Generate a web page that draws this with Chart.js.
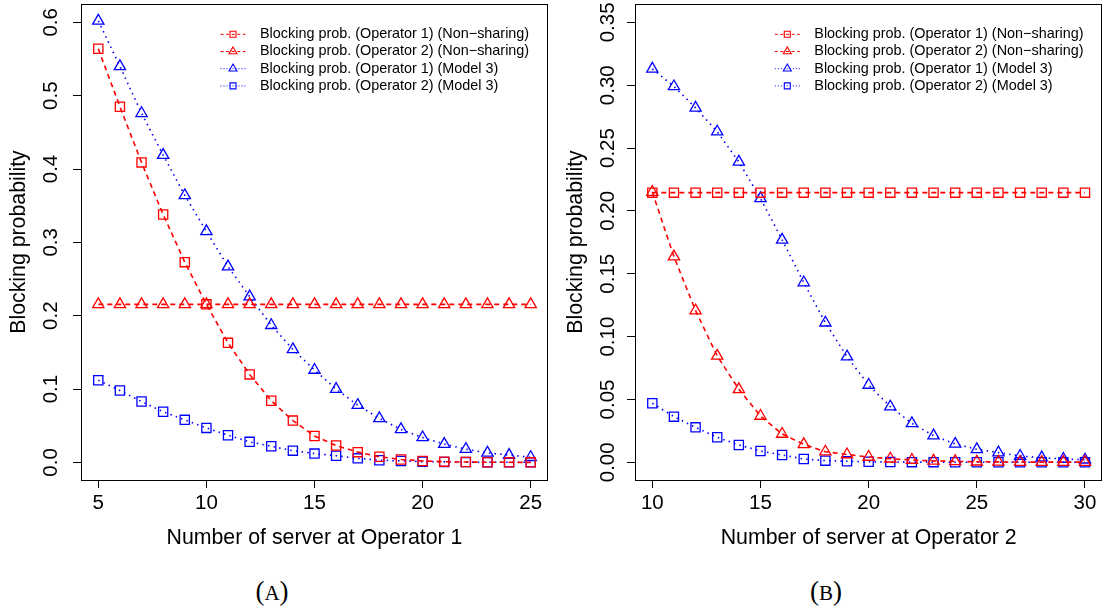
<!DOCTYPE html>
<html>
<head>
<meta charset="utf-8">
<script src="https://cdn.jsdelivr.net/npm/chart.js@4/dist/chart.umd.min.js"></script>
<style>
  body { margin: 0; background: #fff; width: 1104px; height: 612px; position: relative; overflow: hidden; }
  .panel { position: absolute; top: 0; width: 552px; height: 560px; }
  .cap { position: absolute; top: 575px; width: 100px; text-align: center; line-height: 32px;
         font-family: "Liberation Serif", "DejaVu Serif", serif; font-size: 27px; color: #000; }
  .cap span { font-size: 0.78em; }
</style>
</head>
<body>
<div class="panel" style="left:0"><canvas id="chartA" width="552" height="560"></canvas></div>
<div class="panel" style="left:552px"><canvas id="chartB" width="552" height="560"></canvas></div>
<div class="cap" style="left:222px">(<span>A</span>)</div>
<div class="cap" style="left:776px">(<span>B</span>)</div>
<script>
// series order matches the legend
const seriesLabels = [
  "Blocking prob. (Operator 1) (Non\u2212sharing)",
  "Blocking prob. (Operator 2) (Non\u2212sharing)",
  "Blocking prob. (Operator 1) (Model 3)",
  "Blocking prob. (Operator 2) (Model 3)",
];

// panel A: servers at operator 1
const serversA = [5, 6, 7, 8, 9, 10, 11, 12, 13, 14, 15, 16, 17, 18, 19, 20, 21, 22, 23, 24, 25];
const op1NonSharingA = [0.564, 0.485, 0.409, 0.338, 0.273, 0.2155, 0.163, 0.120, 0.084, 0.057, 0.036, 0.023, 0.014, 0.0077, 0.004, 0.002, 0.001, 0.0005, 0.0002, 0.0001, 0.00005];
const op2NonSharingA = [0.2155, 0.2155, 0.2155, 0.2155, 0.2155, 0.2155, 0.2155, 0.2155, 0.2155, 0.2155, 0.2155, 0.2155, 0.2155, 0.2155, 0.2155, 0.2155, 0.2155, 0.2155, 0.2155, 0.2155, 0.2155];
const op1Model3A = [0.602, 0.540, 0.476, 0.419, 0.364, 0.315, 0.267, 0.226, 0.187, 0.154, 0.126, 0.100, 0.078, 0.060, 0.045, 0.034, 0.025, 0.018, 0.013, 0.010, 0.007];
const op2Model3A = [0.112, 0.098, 0.083, 0.069, 0.058, 0.047, 0.037, 0.028, 0.022, 0.016, 0.012, 0.009, 0.0055, 0.003, 0.002, 0.001, 0.0007, 0.0004, 0.0002, 0.0001, 0.0001];
const xTicksA = [5, 10, 15, 20, 25];
const xTickLabelsA = ["5", "10", "15", "20", "25"];
const yTicksA = [0, 0.1, 0.2, 0.3, 0.4, 0.5, 0.6];
const yTickLabelsA = ["0.0", "0.1", "0.2", "0.3", "0.4", "0.5", "0.6"];

// panel B: servers at operator 2
const serversB = [10, 11, 12, 13, 14, 15, 16, 17, 18, 19, 20, 21, 22, 23, 24, 25, 26, 27, 28, 29, 30];
const op1NonSharingB = [0.2145, 0.2145, 0.2145, 0.2145, 0.2145, 0.2145, 0.2145, 0.2145, 0.2145, 0.2145, 0.2145, 0.2145, 0.2145, 0.2145, 0.2145, 0.2145, 0.2145, 0.2145, 0.2145, 0.2145, 0.2145];
const op2NonSharingB = [0.215, 0.1636, 0.1206, 0.0846, 0.058, 0.0368, 0.0225, 0.0143, 0.0084, 0.0062, 0.0042, 0.0028, 0.0018, 0.0011, 0.0007, 0.0004, 0.0003, 0.0002, 0.0001, 0.0001, 0.0001];
const op1Model3B = [0.313, 0.299, 0.282, 0.263, 0.239, 0.210, 0.177, 0.143, 0.111, 0.084, 0.0615, 0.0442, 0.031, 0.0212, 0.0146, 0.0103, 0.0077, 0.005, 0.0037, 0.0026, 0.002];
const op2Model3B = [0.047, 0.0363, 0.0278, 0.0199, 0.0138, 0.009, 0.0058, 0.0026, 0.0013, 0.0008, 0.0004, 0.0002, 0.0001, 0.0001, 0.00005, 0.00005, 0.00005, 0.00005, 0.00005, 0.00005, 0.00005];
const xTicksB = [10, 15, 20, 25, 30];
const xTickLabelsB = ["10", "15", "20", "25", "30"];
const yTicksB = [0, 0.05, 0.1, 0.15, 0.2, 0.25, 0.3, 0.35];
const yTickLabelsB = ["0.00", "0.05", "0.10", "0.15", "0.20", "0.25", "0.30", "0.35"];

const RED = "#ff0000";
const BLUE = "#0000ff";
const seriesColors = [RED, RED, BLUE, BLUE];
const seriesMarkers = ["rect", "triangle", "triangle", "rect"];
const plotDash = [[5, 4], [5, 4], [1.5, 4.2], [1.5, 4.2]];
const legendDash = [[3, 2.6], [3, 2.6], [1, 2], [1, 2]];

Chart.defaults.font.family = '"Liberation Sans", Arial, sans-serif';
Chart.defaults.color = "#000";

// R-style box around the plot region
const plotBox = {
  id: "plotBox",
  afterDraw(chart) {
    const { ctx, chartArea: a } = chart;
    ctx.save();
    ctx.strokeStyle = "#000";
    ctx.lineWidth = 1;
    ctx.strokeRect(Math.round(a.left) + 0.5, Math.round(a.top) + 0.5,
      Math.round(a.right - a.left) - 1, Math.round(a.bottom - a.top));
    ctx.restore();
  },
};

// legend drawn like R's legend(): short line with the marker in the middle
const rLegend = {
  id: "rLegend",
  afterDraw(chart) {
    const { ctx, chartArea: a } = chart;
    ctx.save();
    chart.data.datasets.forEach((ds, i) => {
      const y = a.top + 30.3 + i * 17.2;
      const xm = a.right - 315;
      ctx.strokeStyle = ds.borderColor;
      ctx.lineWidth = 1;
      ctx.setLineDash(legendDash[i]);
      ctx.beginPath();
      ctx.moveTo(a.right - 327.5, y);
      ctx.lineTo(a.right - 302.5, y);
      ctx.stroke();
      ctx.setLineDash([]);
      ctx.lineWidth = 1.1;
      ctx.beginPath();
      if (ds.pointStyle === "rect") {
        ctx.rect(xm - 3, y - 3, 6, 6);
      } else {
        const r = 4.6;
        ctx.moveTo(xm, y - r);
        ctx.lineTo(xm + r * 0.866, y + r / 2);
        ctx.lineTo(xm - r * 0.866, y + r / 2);
        ctx.closePath();
      }
      ctx.stroke();
      ctx.fillStyle = "#000";
      ctx.font = '14.4px "Liberation Sans", Arial, sans-serif';
      ctx.textBaseline = "middle";
      ctx.fillText(ds.label, a.right - 288, y);
    });
    ctx.restore();
  },
};

function makePanel(canvasId, p) {
  const datasets = p.series.map((vals, i) => ({
    label: seriesLabels[i],
    data: p.x.map((x, j) => ({ x: x, y: vals[j] })),
    borderColor: seriesColors[i],
    borderWidth: 1.6,
    borderDash: plotDash[i],
    pointStyle: seriesMarkers[i],
    pointRadius: 6.5,
    pointBorderWidth: 1.3,
    pointBorderColor: seriesColors[i],
    pointBackgroundColor: "rgba(0,0,0,0)",
    fill: false,
    tension: 0,
  }));

  const tickGrid = { drawOnChartArea: false, drawTicks: true, tickLength: 8, color: "#000", lineWidth: 1 };

  const config = {
    type: "line",
    data: { datasets: datasets },
    options: {
      responsive: false,
      animation: false,
      layout: { padding: { top: 4, right: p.rightPad, left: 0, bottom: 0 }, autoPadding: false },
      plugins: { legend: { display: false }, tooltip: { enabled: false } },
      scales: {
        x: {
          type: "linear",
          min: p.xMin,
          max: p.xMax,
          afterBuildTicks: (s) => { s.ticks = p.xTicks.map((v) => ({ value: v })); },
          afterFit: (s) => { s.height = 80; s.paddingLeft = 0; s.paddingRight = 0; },
          ticks: {
            callback: (v, i) => p.xTickLabels[i],
            font: { size: 20.5 },
            padding: 2.7,
            maxRotation: 0,
            autoSkip: false,
          },
          grid: tickGrid,
          border: { display: false },
          title: { display: true, text: p.xTitle, font: { size: 21.3 }, padding: { top: 0, bottom: 9 } },
        },
        y: {
          type: "linear",
          min: p.yMin,
          max: p.yMax,
          afterBuildTicks: (s) => { s.ticks = p.yTicks.map((v) => ({ value: v })); },
          afterFit: (s) => { s.width = p.yAxisWidth; s.paddingTop = 0; s.paddingBottom = 0; },
          ticks: {
            callback: (v, i) => p.yTickLabels[i],
            font: { size: 20.5 },
            padding: p.yTickPad,
            minRotation: 90,
            maxRotation: 90,
            crossAlign: "center",
            autoSkip: false,
          },
          grid: tickGrid,
          border: { display: false },
          title: { display: true, text: "Blocking probability", font: { size: 21.3 }, padding: { top: p.yTitlePad, bottom: 0 } },
        },
      },
    },
    plugins: [plotBox, rLegend],
  };
  return new Chart(document.getElementById(canvasId), config);
}

makePanel("chartA", {
  x: serversA,
  series: [op1NonSharingA, op2NonSharingA, op1Model3A, op2Model3A],
  xMin: 4.2, xMax: 25.8, xTicks: xTicksA, xTickLabels: xTickLabelsA,
  yMin: -0.024, yMax: 0.625, yTicks: yTicksA, yTickLabels: yTickLabelsA,
  xTitle: "Number of server at Operator 1",
  yAxisWidth: 81, yTickPad: 7, yTitlePad: 6, rightPad: 4,
});

makePanel("chartB", {
  x: serversB,
  series: [op1NonSharingB, op2NonSharingB, op1Model3B, op2Model3B],
  xMin: 9.2, xMax: 30.8, xTicks: xTicksB, xTickLabels: xTickLabelsB,
  yMin: -0.0141, yMax: 0.3646, yTicks: yTicksB, yTickLabels: yTickLabelsB,
  xTitle: "Number of server at Operator 2",
  yAxisWidth: 83, yTickPad: -1, yTitlePad: 11.5, rightPad: 1.7,
});
</script>
</body>
</html>
